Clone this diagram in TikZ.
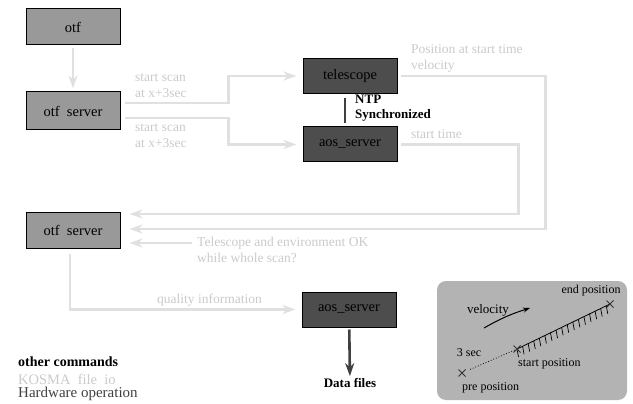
\documentclass[tikz,border=0pt]{standalone}
\usepackage{fontspec}
\setmainfont{Liberation Serif}
\usepackage{tikz}
\usetikzlibrary{arrows.meta,calc}
\definecolor{fileio}{HTML}{E0E0E0}
\definecolor{hwgray}{HTML}{404040}
\definecolor{otffill}{HTML}{999999}
\definecolor{hwfill}{HTML}{4D4D4D}
\definecolor{legfill}{HTML}{B3B3B3}
\tikzset{font=\fontsize{13.5}{16}\selectfont}
\tikzset{every node/.append style={transform shape=false}}
\tikzset{
  otfbox/.style={draw=black,line width=1pt,fill=otffill,minimum width=94pt,font=\fontsize{14.5}{17}\selectfont},
  hwbox/.style={draw=black,line width=1pt,fill=hwfill,minimum width=94pt,minimum height=35pt,font=\fontsize{14.5}{17}\selectfont},
  iolink/.style={fileio,line width=2.6pt,-{Stealth[length=13pt,width=9pt,inset=4pt]}},
  iotxt/.style={text=fileio!90!black,align=left,inner sep=0pt},
  hwlink/.style={hwgray,line width=2.6pt,-{Stealth[length=13pt,width=9pt,inset=4pt]}},
  boldtxt/.style={font=\fontsize{13}{15}\selectfont\bfseries,align=left,inner sep=0pt},
  legtxt/.style={font=\fontsize{12}{14}\selectfont,inner sep=0pt},
  xmark/.style={gray!40!black,line width=.8pt}
}

\begin{document}
\begin{tikzpicture}[x=1pt,y=-1pt]
\useasboundingbox (0,0) rectangle (633,404);
% boxes
\node[otfbox,minimum height=36pt] (otf) at (73,27) {otf};
\node[otfbox,minimum height=38pt] (otfsrv) at (73,111) {otf\enspace server};
\node[hwbox] (tel) at (350,76) {telescope};
\node[hwbox] (aos) at (350,144.5) {aos\_server};
\node[otfbox,minimum height=36pt] (otfsrv2) at (73,230) {otf\enspace server};
\node[hwbox] (aos2) at (349,309.5) {aos\_server};
% file io arrows
\draw[iolink,shorten >=3pt,shorten <=3pt] (otf) -- (otfsrv);
\draw[iolink,shorten >=6pt,shorten <=4pt] ([yshift=8pt]otfsrv.east) -- ++(108,0) |- (tel.west);
\draw[iolink,shorten >=6pt,shorten <=4pt] ([yshift=-7pt]otfsrv.east) -- ++(108,0) |- (aos.west);
\draw[iolink,shorten >=9pt,shorten <=3pt] (tel.east) -- ++(148,0) |- ([yshift=1pt]otfsrv2.east);
\draw[iolink,shorten >=9pt,shorten <=3pt] (aos.east) -- ++(121,0) |- ([yshift=16pt]otfsrv2.east);
\coordinate (envok) at (192,243);
\draw[iolink,shorten >=9pt] (envok) -- (envok -| otfsrv2.east);
\draw[iolink,shorten >=6pt,shorten <=5pt] (otfsrv2.south) ++(-3pt,0) |- (aos2.west);
% hardware
\node[boldtxt] (data) at (350,383) {Data files};
\draw[hwlink,shorten <=2pt,shorten >=2pt] (aos2) -- (data);
\draw[hwgray,line width=2.6pt,shorten <=4pt,shorten >=3pt] ([xshift=-5pt]tel.south) -- ([xshift=-5pt]aos.north);
\node[boldtxt,anchor=north west] (ntp) at (355,95) {NTP\\Synchronized};
% labels
\node[iotxt,anchor=north west] (scan1) at (135,74) {start scan\\at x+3sec};
\node[iotxt,anchor=north west] (scan2) at (135,124) {start scan\\at x+3sec};
\node[iotxt,anchor=north west] (posvel) at (411,44) {Position at start time\\velocity};
\node[iotxt,anchor=north west] (stime) at (411,129) {start time};
\node[iotxt,anchor=north west] (envtxt) at (197,237) {Telescope and environment OK\\while whole scan?};
\node[iotxt,anchor=west] (qual) at (157,300) {quality information};
% legend
\node[boldtxt,anchor=west,font=\fontsize{14}{16}\selectfont\bfseries] (lcmd) at (18,362) {other commands};
\node[iotxt,anchor=west,font=\fontsize{14.5}{16}\selectfont] (lio) at (18,379) {KOSMA\enspace file\enspace io};
\node[anchor=west,inner sep=0pt,text=hwgray,font=\fontsize{15}{17}\selectfont] (lhw) at (18,394) {Hardware operation};
% scan sketch
\fill[legfill,rounded corners=9pt] (437,281) rectangle (627,400);
\coordinate (pre) at (462,373);
\coordinate (start) at (517,349);
\coordinate (end) at (610,304);
\draw[dotted,line width=.8pt] ($(pre)!.15!(start)$) -- (start);
\draw[line width=.8pt] (start) -- (end);
\foreach \t in {0,0.06,...,0.97}
  \draw[line width=.7pt] ($(start)!\t!(end)$) -- ++(1.5,8);
\foreach \p in {pre,start,end}
  \draw[xmark] ($(\p)+(-3.5,-3.5)$) -- ($(\p)+(3.5,3.5)$) ($(\p)+(-3.5,3.5)$) -- ($(\p)+(3.5,-3.5)$);
\draw[line width=1pt,-{Stealth[length=7pt,width=5pt]}] (484,328) to[bend left=6] (530,308);
\node[legtxt] (lend) at (591,291) {end position};
\node[legtxt,font=\fontsize{13}{15}\selectfont] (lvel) at (488,310) {velocity};
\node[legtxt] (lsec) at (469,353) {3 sec};
\node[legtxt,anchor=west] (lstart) at (518,364) {start position};
\node[legtxt,anchor=west] (lpre) at (462,388) {pre position};
\end{tikzpicture}
\end{document}
